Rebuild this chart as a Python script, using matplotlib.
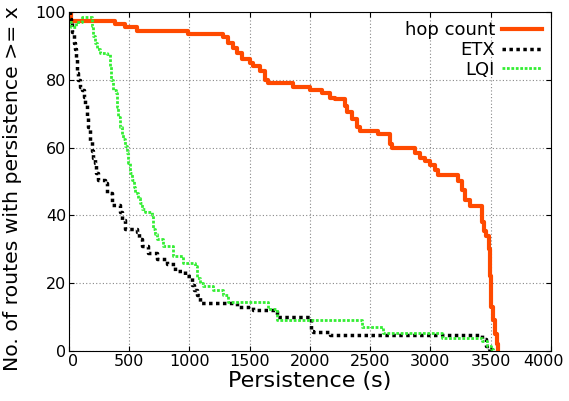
import numpy as np
import matplotlib.pyplot as plt
import matplotlib.transforms as mtransforms

# step curves: (persistence, routes >= x)
hop_x = [0, 15, 380, 465, 565, 990, 1280, 1320, 1360, 1395, 1435, 1500, 1530, 1585, 1625,
         1650, 1860, 2000, 2100, 2165, 2205, 2290, 2305, 2350, 2390, 2415, 2565, 2665, 2680,
         2870, 2915, 2955, 2995, 3035, 3060, 3230, 3260, 3285, 3330, 3430, 3445, 3460, 3490,
         3495, 3500, 3505, 3520, 3535, 3550, 3560]
hop_y = [100, 97.5, 96.5, 95.5, 94.5, 93.5, 92.5, 91, 89.5, 88, 86, 85, 84, 82.5, 80,
         79, 78, 77, 76, 74.7, 74.2, 72.3, 70.4, 68.3, 66, 65, 64, 61, 60,
         58.5, 57, 56, 55, 53.5, 52, 50, 47.5, 44.6, 42.7, 38, 35.3, 34, 30,
         22, 16, 13, 9, 5, 2, 0]

etx_x = [0, 10, 20, 30, 40, 50, 60, 70, 80, 95, 110, 122, 135, 148, 160, 175, 190, 203,
         215, 228, 240, 300, 320, 355, 425, 445, 465, 565, 585, 605, 655, 730, 815, 880,
         965, 1020, 1040, 1060, 1090, 1395, 1525, 1725, 2010, 2030, 2165,
         3430, 3460, 3490, 3510]
etx_y = [100, 98, 97, 94, 91, 89, 86, 82, 80, 78, 77, 75, 73, 69, 66, 62, 59, 57,
         55.5, 52.5, 50.5, 49.5, 46.5, 43, 41, 38.5, 36, 35, 33, 31, 29, 27, 25.5, 23.5,
         22, 19.5, 18, 16.5, 14, 13, 12, 10, 6, 5.7, 4.7,
         3.5, 1.5, 0.5, 0]

lqi_x = [0, 15, 60, 110, 190, 200, 215, 230, 255, 315, 340, 352, 365, 395, 400, 410, 425,
         440, 450, 465, 480, 492, 505, 525, 537, 550, 570, 590, 610, 630, 690, 700, 715,
         730, 780, 865, 945, 1045, 1060, 1085, 1110, 1195, 1280, 1320, 1650, 1725, 2430,
         2605, 3095, 3430, 3470, 3500, 3520]
lqi_y = [97, 95.5, 97, 98.5, 96, 93, 91, 89, 88, 87.5, 84, 80, 77, 76, 72, 69, 66,
         64, 62.5, 60.5, 58.5, 55.5, 52.5, 50.5, 48.5, 46.5, 45, 43.5, 42, 41, 40, 36, 34.5,
         33, 31, 28, 26, 25, 21.5, 20, 19, 18, 16.5, 14.5, 12.5, 9, 7,
         5.3, 3.8, 3, 1.5, 0.5, 0]

fig = plt.figure(figsize=(5.69, 4.01), dpi=100)
ax = fig.add_axes([0.121, 0.125, 0.847, 0.845])

ax.plot(hop_x, hop_y, drawstyle="steps-post", color="#ff4a00", lw=3, label="hop count")
ax.plot(etx_x, etx_y, drawstyle="steps-post", color="black", lw=2.5,
        linestyle=(0, (1, 1)), label="ETX")
ax.plot(lqi_x, lqi_y, drawstyle="steps-post", color="#33ee33", lw=2,
        linestyle=(0, (1, 0.6)), label="LQI")

ax.set_xlim(0, 4000)
ax.set_ylim(0, 100)
ax.set_xticks(np.arange(0, 4001, 500))
ax.set_yticks(np.arange(0, 101, 20))
ax.grid(True, color="#888888", linestyle=(0, (1, 2)), lw=0.8)
ax.tick_params(direction="in", top=True, right=True, labelsize=11.5, pad=2)
ax.set_xlabel("Persistence (s)", fontsize=16, labelpad=2)
ax.set_ylabel("No. of routes with persistence >= x", fontsize=14.7)
ax.yaxis.set_label_coords(-0.098, 0.48)

# nudge the end x labels so they stay inside the picture, as in the original
fig.canvas.draw()
xl = ax.get_xticklabels()
xl[-1].set_transform(xl[-1].get_transform() + mtransforms.ScaledTranslation(-5 / 72, 0, fig.dpi_scale_trans))
xl[0].set_transform(xl[0].get_transform() + mtransforms.ScaledTranslation(3 / 72, 0, fig.dpi_scale_trans))

ax.legend(loc="upper right", frameon=False, markerfirst=False, fontsize=13,
          handlelength=2.2, borderaxespad=0.1, labelspacing=0.1, handletextpad=0.4)

fig.savefig("out.png", dpi=100)
